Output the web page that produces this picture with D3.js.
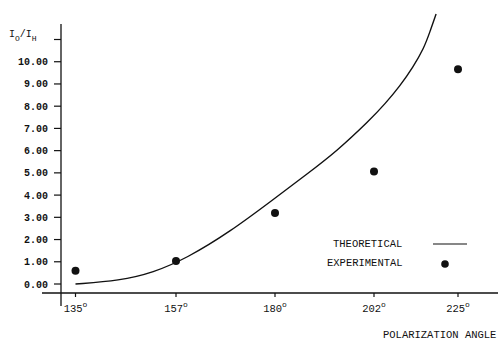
<!DOCTYPE html>
<html>
<head>
<meta charset="utf-8">
<script src="https://cdn.jsdelivr.net/npm/d3@7"></script>
<style>
  body { margin: 0; background: #fff; }
  svg text { font-family: "Liberation Mono", "DejaVu Sans Mono", monospace; fill: #111; }
</style>
</head>
<body>
<div id="chart"></div>
<script>
// tick values
var angleTicks = [135, 157, 180, 202, 225];
var ratioTicks = [0, 1, 2, 3, 4, 5, 6, 7, 8, 9, 10, 11];

// experimental points (angle, Io/Ih)
var expAngles = [135, 157, 180, 202, 225];
var expValues = [0.6, 1.04, 3.19, 5.06, 9.66];

// theoretical curve
var theoAngles = [135, 144.7, 152.0, 159.5, 169.5, 179.6, 187.0, 193.7, 201.1, 205.0, 209.1, 212.7, 215.7, 217.3, 219.0];
var theoValues = [0.0, 0.15, 0.51, 1.16, 2.34, 3.80, 4.93, 5.97, 7.38, 8.10, 8.91, 9.76, 10.62, 11.34, 12.15];

var W = 498, H = 341;

var svg = d3.select("#chart").append("svg")
    .attr("width", W)
    .attr("height", H);

// the angle axis is not evenly spaced in the original, so piecewise
var x = d3.scaleLinear()
    .domain(angleTicks)
    .range([75.5, 176, 275, 374, 458]);

var y = d3.scaleLinear()
    .domain([0, 11])
    .range([284, 39.5]);

var axisY = 293, axisX = 61;

// x axis line
svg.append("line")
    .attr("x1", 42).attr("x2", 498)
    .attr("y1", axisY).attr("y2", axisY)
    .attr("stroke", "#111").attr("stroke-width", 1.3);

// y axis line
svg.append("line")
    .attr("x1", axisX).attr("x2", axisX)
    .attr("y1", 24).attr("y2", 306)
    .attr("stroke", "#111").attr("stroke-width", 1.3);

// x ticks
var xt = svg.append("g").selectAll("g")
    .data(angleTicks)
    .enter().append("g")
    .attr("transform", function(d) { return "translate(" + x(d) + "," + axisY + ")"; });
xt.append("line").attr("y1", 0).attr("y2", 4).attr("stroke", "#111").attr("stroke-width", 1.2);
var xl = xt.append("text")
    .attr("y", 19)
    .attr("text-anchor", "middle")
    .style("font-size", "10.5px");
xl.append("tspan").text(function(d) { return d; });
xl.append("tspan").attr("dy", -5).style("font-size", "8px").text("o");

// y ticks
var yt = svg.append("g").selectAll("g")
    .data(ratioTicks)
    .enter().append("g")
    .attr("transform", function(d) { return "translate(" + axisX + "," + y(d) + ")"; });
yt.append("line").attr("x1", -7).attr("x2", 0).attr("stroke", "#111").attr("stroke-width", 1.2);
yt.filter(function(d) { return d < 11; }).append("text")
    .attr("x", -13)
    .attr("dy", "0.35em")
    .attr("text-anchor", "end")
    .style("font-size", "10px")
    .style("font-weight", "bold")
    .text(function(d) { return d3.format(".2f")(d); });

// y title  Io/Ih
var yl = svg.append("text")
    .attr("x", 9).attr("y", 37)
    .style("font-size", "10px");
yl.append("tspan").text("I");
yl.append("tspan").attr("dy", 4).style("font-size", "8px").text("O");
yl.append("tspan").attr("dy", -4).text("/I");
yl.append("tspan").attr("dy", 4).style("font-size", "8px").text("H");

// theoretical curve (basis smooths out reading noise)
var line = d3.line()
    .x(function(d, i) { return x(theoAngles[i]); })
    .y(function(d) { return y(d); })
    .curve(d3.curveBasis);

svg.append("path")
    .datum(theoValues)
    .attr("d", line)
    .attr("fill", "none")
    .attr("stroke", "#111")
    .attr("stroke-width", 1.4);

// experimental points
svg.append("g").selectAll("circle")
    .data(expValues)
    .enter().append("circle")
    .attr("cx", function(d, i) { return x(expAngles[i]); })
    .attr("cy", function(d) { return y(d); })
    .attr("r", 4)
    .attr("fill", "#111");

// legend
svg.append("text")
    .attr("x", 333).attr("y", 247)
    .style("font-size", "10.5px")
    .text("THEORETICAL");
svg.append("line")
    .attr("x1", 433).attr("x2", 467)
    .attr("y1", 244).attr("y2", 244)
    .attr("stroke", "#111").attr("stroke-width", 1.2);
svg.append("text")
    .attr("x", 327).attr("y", 266)
    .style("font-size", "10.5px")
    .text("EXPERIMENTAL");
svg.append("circle")
    .attr("cx", 445).attr("cy", 264)
    .attr("r", 3.8)
    .attr("fill", "#111");

// x title
svg.append("text")
    .attr("x", 383).attr("y", 338)
    .style("font-size", "10.5px")
    .text("POLARIZATION ANGLE");
</script>
</body>
</html>
